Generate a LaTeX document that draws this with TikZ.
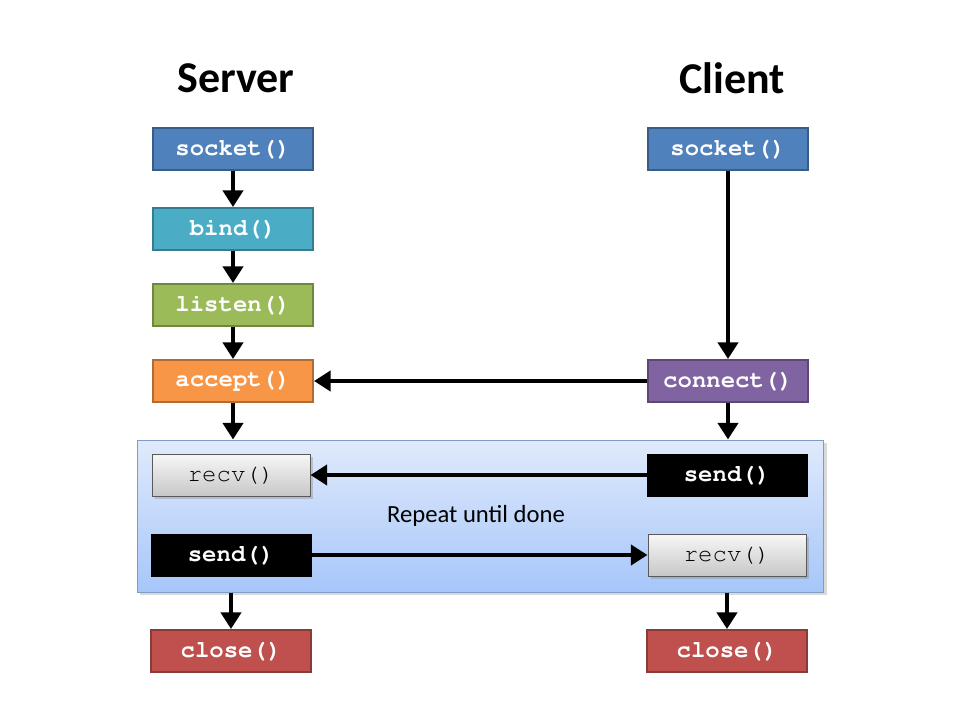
\documentclass[tikz,border=0pt]{standalone}
\usepackage{fontspec}
\setmainfont{Carlito}
\usetikzlibrary{positioning, arrows.meta, shadows, backgrounds}

% Courier for the calls
\newcommand{\callfont}{\fontencoding{T1}\fontfamily{pcr}\fontsize{18}{21}\selectfont}

\definecolor{sockblue}{HTML}{4F81BD}
\definecolor{bindaqua}{HTML}{4BACC6}
\definecolor{listengreen}{HTML}{9BBB59}
\definecolor{acceptorange}{HTML}{F79646}
\definecolor{connectpurple}{HTML}{8064A2}
\definecolor{closered}{HTML}{C0504D}
\definecolor{looptop}{HTML}{E0EAFB}
\definecolor{loopbottom}{HTML}{A6C6FA}
\definecolor{loopedge}{HTML}{7F9DC4}

\begin{document}
\begin{tikzpicture}[
  x=0.75pt, y=-0.75pt,
  call/.style={
    draw=#1!72!black, fill=#1, line width=1.5pt,
    minimum width=120pt, minimum height=31.5pt, inner sep=0pt,
    text=white, font=\callfont\bfseries
  },
  sendbox/.style={
    draw=black, fill=black, line width=0.75pt,
    minimum width=120pt, minimum height=31.5pt, inner sep=0pt,
    text=white, font=\callfont\bfseries
  },
  recvbox/.style={
    draw=black!65, top color=black!3, bottom color=black!22,
    line width=0.75pt,
    minimum width=118.5pt, minimum height=31.5pt, inner sep=0pt,
    drop shadow={opacity=0.35, shadow xshift=2pt, shadow yshift=-2pt},
    text=black, font=\callfont
  },
  loopbox/.style={
    draw=loopedge, top color=looptop, bottom color=loopbottom,
    line width=0.75pt,
    minimum width=515pt, minimum height=114pt, inner sep=0pt,
    drop shadow={opacity=0.3, shadow xshift=2pt, shadow yshift=-2pt}
  },
  title/.style={font=\bfseries\fontsize{33}{38}\selectfont},
  flow/.style={-{Triangle[width=15pt, length=12.5pt]}, line width=3.3pt},
]
  \useasboundingbox (0,0) rectangle (960,720);

  % titles
  \node[title] (srvtitle) at (236,78) {Server};
  \node[title] (clttitle) at (732,78) {Client};

  % repeat region
  \node[loopbox] (loop) at (480.5,516) {};
  \node[font=\fontsize{18.5}{22}\selectfont] (looplabel) at (476,516) {Repeat until done};

  % server side
  \node[call=sockblue] (ssocket) at (233,149) {socket()};
  \node[call=bindaqua, below=27pt of ssocket] (sbind) {bind()};
  \node[call=listengreen, below=24pt of sbind] (slisten) {listen()};
  \node[call=acceptorange, below=24pt of slisten] (saccept) {accept()};
  \node[recvbox] (srecv) at (231,475) {recv()};
  \node[sendbox] (ssend) at (231,555) {send()};
  \node[call=closered] (sclose) at (231,651) {close()};

  % client side
  \node[call=sockblue] (csocket) at (728,149) {socket()};
  \node[call=connectpurple] (cconnect) at (728,381) {connect()};
  \node[sendbox] (csend) at (727,475) {send()};
  \node[recvbox] (crecv) at (727,555) {recv()};
  \node[call=closered] (cclose) at (727,651) {close()};

  % connectors
  \draw[flow] (ssocket) -- (sbind);
  \draw[flow] (sbind) -- (slisten);
  \draw[flow] (slisten) -- (saccept);
  \draw[flow] (saccept) -- (saccept |- loop.north);
  \draw[flow] (csocket) -- (cconnect);
  \draw[flow] (cconnect) -- (cconnect -| saccept.east);
  \draw[flow] (cconnect) -- (cconnect |- loop.north);
  \draw[flow] (csend) -- (srecv);
  \draw[flow] (ssend) -- (crecv);
  \draw[flow] (loop.south -| sclose) -- (sclose);
  \draw[flow] (loop.south -| cclose) -- (cclose);
\end{tikzpicture}
\end{document}
